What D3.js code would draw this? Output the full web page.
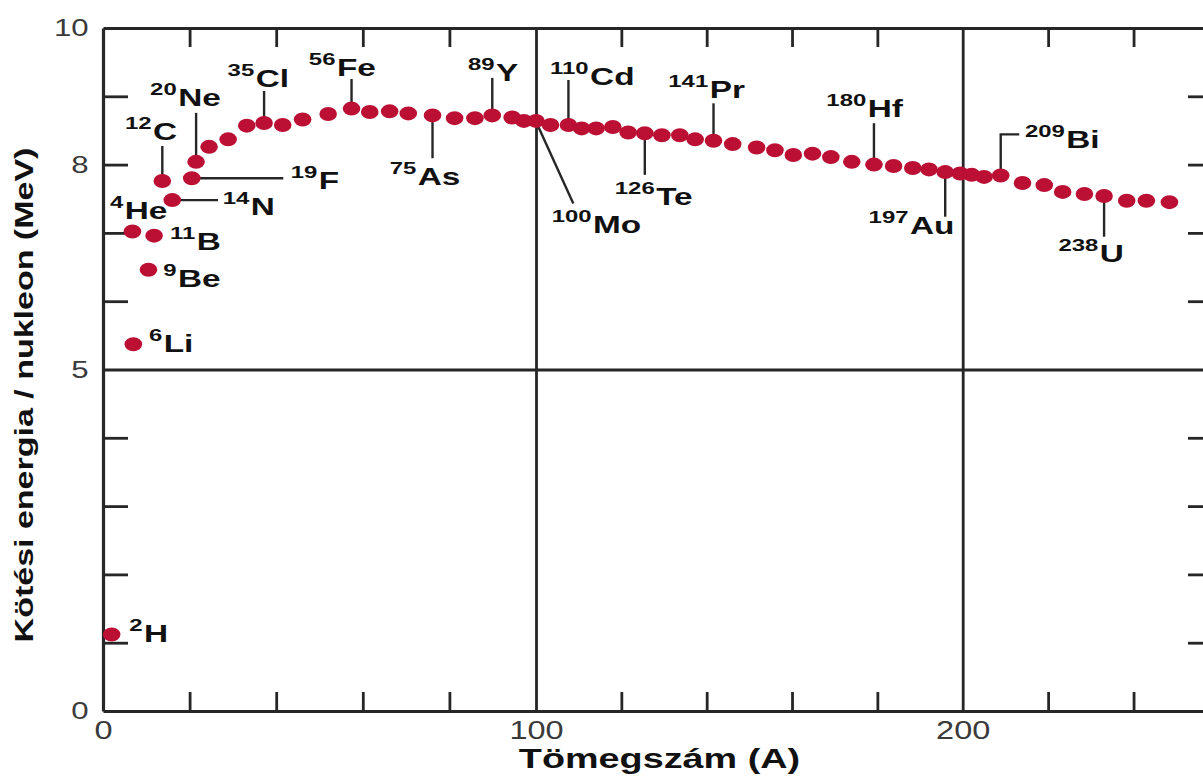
<!DOCTYPE html>
<html>
<head>
<meta charset="utf-8">
<script src="https://cdn.jsdelivr.net/npm/d3@7"></script>
<style>
  body { margin: 0; background: #fff; }
  svg { display: block; }
  text { font-family: "Liberation Sans", Arial, sans-serif; }
</style>
</head>
<body>
<script>
// tömegszám (A) and kötési energia / nukleon (MeV)
var massNumber = [2.0, 6.8, 7.0, 10.5, 11.8, 13.7, 16.0, 20.5, 21.5, 24.5,
                  28.9, 33.2, 37.2, 41.5, 46.1, 52.0, 57.4, 61.6, 66.2, 70.5,
                  76.1, 81.2, 85.9, 89.9, 94.5, 97.2, 100.0, 103.4, 107.6, 110.7,
                  114.1, 118.0, 121.6, 125.5, 129.5, 133.7, 137.3, 141.6, 146.1, 151.7,
                  156.0, 160.3, 164.8, 169.1, 174.0, 179.2, 183.8, 188.3, 192.1, 195.9,
                  199.4, 202.1, 205.0, 208.9, 214.0, 219.1, 223.4, 228.5, 233.1, 238.4,
                  243.0, 248.4];
var bindingEnergy = [1.12, 7.02, 5.37, 6.46, 6.96, 7.76, 7.48, 7.80, 8.04, 8.26,
                     8.37, 8.57, 8.61, 8.58, 8.66, 8.74, 8.82, 8.77, 8.78, 8.75,
                     8.72, 8.68, 8.68, 8.72, 8.69, 8.64, 8.64, 8.58, 8.58, 8.53,
                     8.53, 8.55, 8.47, 8.46, 8.43, 8.43, 8.37, 8.35, 8.30, 8.25,
                     8.21, 8.14, 8.16, 8.11, 8.04, 8.00, 7.98, 7.95, 7.93, 7.89,
                     7.87, 7.85, 7.82, 7.84, 7.73, 7.70, 7.60, 7.57, 7.54, 7.47,
                     7.47, 7.45];

var xTickLabels = [0, 100, 200];
var yTickLabels = [0, 5, 8, 10];
var xGrid = [100, 200];
var yGrid = [5];
var xMinorTicks = [20, 40, 60, 80, 120, 140, 160, 180, 220, 240];
var yMinorTicks = [1, 2, 3, 4, 6, 7, 8, 9];

// labelled isotopes: mass number text, symbol, index of its dot
var isoMass   = ["2", "4", "6", "9", "11", "12", "14", "19", "20", "35", "56", "75",
                 "89", "100", "110", "126", "141", "180", "197", "209", "238"];
var isoSymbol = ["H", "He", "Li", "Be", "B", "C", "N", "F", "Ne", "Cl", "Fe", "As",
                 "Y", "Mo", "Cd", "Te", "Pr", "Hf", "Au", "Bi", "U"];
var isoPoint  = [0, 1, 2, 3, 4, 5, 6, 7, 8, 12, 16, 20,
                 23, 26, 28, 33, 37, 45, 49, 53, 58];

// label placement (pixel offsets from the dot) and leader lines
var labelLayout = [
  {dx: 17.6, dy: 7.8, lead: null},
  {dx: -22.5, dy: -12.5, lead: null},
  {dx: 15.7, dy: 8, lead: null},
  {dx: 14.8, dy: 17.5, lead: null},
  {dx: 16, dy: 14.4, lead: null},
  {dx: -37.4, dy: -41, lead: [[0, 0], [0, -35]]},
  {dx: 50.4, dy: 15, lead: [[0, 0], [45.7, 0]]},
  {dx: 99, dy: 11, lead: [[0, 0], [91.5, 0]]},
  {dx: -46, dy: -56, lead: [[0, 0], [0, -49]]},
  {dx: -36.5, dy: -35.6, lead: [[0, 0], [0, -32]]},
  {dx: -42.7, dy: -32.6, lead: [[0, 0], [0, -29.6]]},
  {dx: -42.8, dy: 69.5, lead: [[0, 0], [0, 42.8]]},
  {dx: -24.3, dy: -34.5, lead: [[0, 0], [0, -37.5]]},
  {dx: 15.7, dy: 112.5, lead: [[2, 5], [37.3, 82.5]]},
  {dx: -18.4, dy: -40, lead: [[0, 0], [0, -45]]},
  {dx: -30, dy: 71.7, lead: [[0, 0], [0, 41.7]]},
  {dx: -45.2, dy: -42.7, lead: [[0, 0], [0, -37.4]]},
  {dx: -47.6, dy: -48, lead: [[0, 0], [0, -41.4]]},
  {dx: -76.6, dy: 62.2, lead: [[0, 0], [0, 44.6]]},
  {dx: 24.2, dy: -27.2, lead: [[0, 0], [0, -41.2], [18.5, -41.2]]},
  {dx: -45.6, dy: 65.7, lead: [[0, 0], [0, 40.7]]}
];

var w = 1203, h = 776;
var ink = "#262626";
var dotColor = "#bb0f34";

var svg = d3.select("body").append("svg")
  .attr("width", w)
  .attr("height", h);

var x = d3.scaleLinear()
  .domain([0, 100, 200, 258.6])
  .range([103, 536, 962.7, 1213]);
var y = d3.scaleLinear()
  .domain([0, 10])
  .range([711, 28]);

function styleAxis(g) {
  g.selectAll("path.domain").attr("stroke", ink).attr("stroke-width", 3.2);
  g.selectAll(".tick line").attr("stroke", ink).attr("stroke-width", 2.8);
}

// grid lines at 100, 200 and 5
svg.append("g")
  .attr("transform", "translate(0," + y(0) + ")")
  .call(d3.axisBottom(x).tickValues(xGrid).tickSize(-(y(0) - y(10))).tickFormat(""))
  .call(function(g) { g.select("path.domain").remove(); })
  .call(styleAxis);
svg.append("g")
  .attr("transform", "translate(" + x(0) + ",0)")
  .call(d3.axisLeft(y).tickValues(yGrid).tickSize(-(x(258.6) - x(0))).tickFormat(""))
  .call(function(g) { g.select("path.domain").remove(); })
  .call(styleAxis);

// minor ticks, pointing inwards on all four sides
svg.append("g")
  .attr("transform", "translate(0," + y(0) + ")")
  .call(d3.axisBottom(x).tickValues(xMinorTicks).tickSize(-19).tickSizeOuter(0).tickFormat(""))
  .call(styleAxis);
svg.append("g")
  .attr("transform", "translate(0," + y(10) + ")")
  .call(d3.axisTop(x).tickValues(xMinorTicks).tickSize(-19).tickSizeOuter(0).tickFormat(""))
  .call(styleAxis);
svg.append("g")
  .attr("transform", "translate(" + x(0) + ",0)")
  .call(d3.axisLeft(y).tickValues(yMinorTicks).tickSize(-25).tickSizeOuter(0).tickFormat(""))
  .call(styleAxis);
svg.append("g")
  .attr("transform", "translate(" + x(258.6) + ",0)")
  .call(d3.axisRight(y).tickValues(yMinorTicks).tickSize(-25).tickSizeOuter(0).tickFormat(""))
  .call(styleAxis);

// tick labels
var xLab = svg.append("g")
  .attr("transform", "translate(0," + y(0) + ")")
  .call(d3.axisBottom(x).tickValues(xTickLabels).tickSize(0).tickPadding(10));
xLab.select("path.domain").remove();
xLab.selectAll(".tick text")
  .attr("transform", "scale(1.3,1)")
  .attr("font-family", "Liberation Sans, Arial, sans-serif")
  .attr("font-size", 25)
  .attr("fill", "#3a3a3a");

var yLab = svg.append("g")
  .attr("transform", "translate(" + x(0) + ",0)")
  .call(d3.axisLeft(y).tickValues(yTickLabels).tickSize(0).tickPadding(11));
yLab.select("path.domain").remove();
yLab.selectAll(".tick text")
  .attr("transform", "scale(1.3,1)")
  .attr("font-family", "Liberation Sans, Arial, sans-serif")
  .attr("font-size", 24)
  .attr("fill", "#3a3a3a");

// axis titles
svg.append("text")
  .attr("transform", "translate(659.5,768) scale(1.4,1)")
  .attr("text-anchor", "middle")
  .attr("font-weight", "bold")
  .attr("font-size", 27)
  .attr("fill", "#111")
  .text("Tömegszám (A)");

svg.append("text")
  .attr("transform", "translate(33,395) rotate(-90) scale(1.36,1)")
  .attr("text-anchor", "middle")
  .attr("font-weight", "bold")
  .attr("font-size", 25)
  .attr("fill", "#111")
  .text("Kötési energia / nukleon (MeV)");

// leader lines
var line = d3.line();
isoPoint.forEach(function(p, i) {
  var lay = labelLayout[i];
  if (!lay.lead) return;
  var cx = x(massNumber[p]), cy = y(bindingEnergy[p]);
  svg.append("path")
    .attr("d", line(lay.lead.map(function(d) { return [cx + d[0], cy + d[1]]; })))
    .attr("fill", "none")
    .attr("stroke", ink)
    .attr("stroke-width", 2.4);
});

// dots
svg.selectAll("ellipse")
  .data(massNumber)
  .enter()
  .append("ellipse")
  .attr("cx", function(d) { return x(d); })
  .attr("cy", function(d, i) { return y(bindingEnergy[i]); })
  .attr("rx", 8.8)
  .attr("ry", 7)
  .attr("fill", dotColor);

// isotope labels
isoPoint.forEach(function(p, i) {
  var lay = labelLayout[i];
  var tx = x(massNumber[p]) + lay.dx, ty = y(bindingEnergy[p]) + lay.dy;
  var t = svg.append("text")
    .attr("transform", "translate(" + tx + "," + ty + ") scale(1.45,1)")
    .attr("font-weight", "bold")
    .attr("fill", "#111");
  t.append("tspan").attr("font-size", 16.5).attr("dy", -11).text(isoMass[i]);
  t.append("tspan").attr("font-size", 23).attr("dx", 1).attr("dy", 11).text(isoSymbol[i]);
});
</script>
</body>
</html>
